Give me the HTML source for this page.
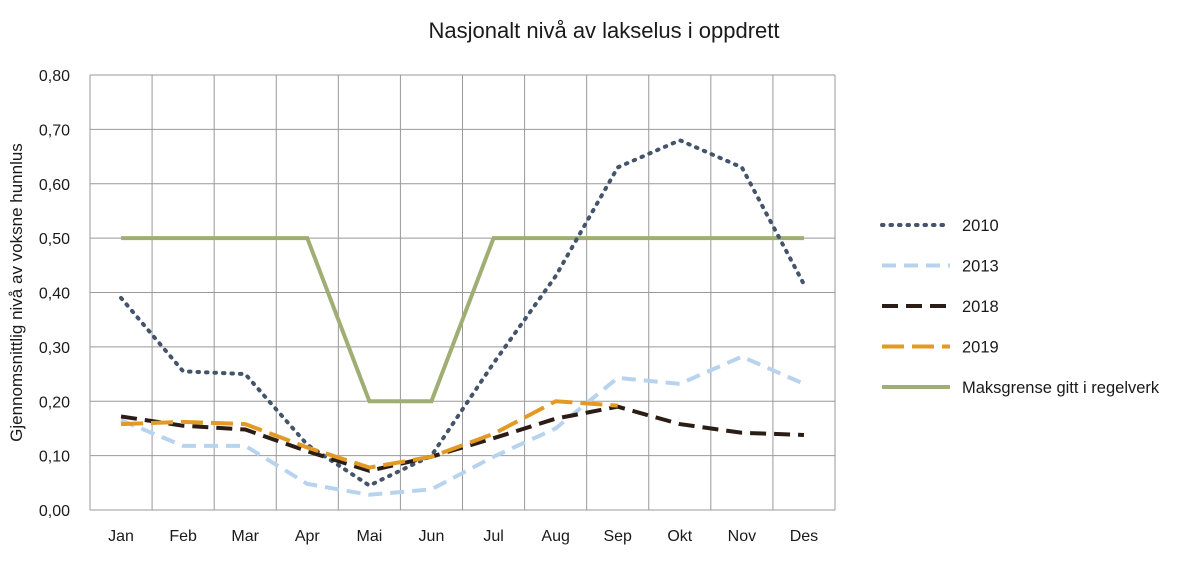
<!DOCTYPE html>
<html><head><meta charset="utf-8"><style>
body{margin:0;background:#fff;font-family:"Liberation Sans",sans-serif}
svg text{font-family:"Liberation Sans",sans-serif;fill:#1a1a1a}
</style></head><body>
<svg id="c" width="1200" height="562"></svg>
<script>
const months=["Jan","Feb","Mar","Apr","Mai","Jun","Jul","Aug","Sep","Okt","Nov","Des"];
const yTicks=[0,0.1,0.2,0.3,0.4,0.5,0.6,0.7,0.8];
const s2010=[0.39,0.255,0.25,0.12,0.045,0.10,0.27,0.43,0.63,0.68,0.63,0.415];
const s2013=[0.165,0.118,0.118,0.048,0.028,0.038,0.098,0.15,0.243,0.232,0.282,0.232];
const s2018=[0.172,0.155,0.148,0.108,0.072,0.098,0.132,0.168,0.19,0.158,0.142,0.138];
const s2019=[0.158,0.162,0.158,0.115,0.078,0.098,0.14,0.2,0.192];
const sMaks=[0.5,0.5,0.5,0.5,0.2,0.2,0.5,0.5,0.5,0.5,0.5,0.5,0.5];
const names=["2010","2013","2018","2019","Maksgrense gitt i regelverk"];
const NS="http://www.w3.org/2000/svg",svg=document.getElementById("c");
const L=90,R=835,T=75,B=510,bw=(R-L)/12;
const x=i=>L+bw*(i+0.5), y=v=>B-(B-T)*v/0.8;
function el(t,a,txt){const e=document.createElementNS(NS,t);for(const k in a)e.setAttribute(k,a[k]);if(txt!=null)e.textContent=txt;svg.appendChild(e);return e;}
let e=el("text",{x:604,y:38,"text-anchor":"middle","font-size":22},"Nasjonalt nivå av lakselus i oppdrett");


yTicks.forEach(v=>{let g=el("line",{x1:L,x2:R,y1:y(v),y2:y(v),stroke:"#999","stroke-width":1});


let t=el("text",{x:70,y:y(v)+6,"text-anchor":"end","font-size":16},v.toFixed(2).replace(".",","));

});
for(let i=0;i<=12;i++){let g=el("line",{x1:L+bw*i,x2:L+bw*i,y1:T,y2:B,stroke:"#999","stroke-width":1});

}
months.forEach((m,i)=>{let t=el("text",{x:x(i),y:541,"text-anchor":"middle","font-size":16},m);

});
e=el("text",{x:0,y:0,"text-anchor":"middle","font-size":17,transform:`translate(22,${(T+B)/2}) rotate(-90)`},"Gjennomsnittlig nivå av voksne hunnlus");


const maksX=[x(0),x(3),x(4),x(5),x(6),x(11)],maksV=[sMaks[0],sMaks[3],sMaks[4],sMaks[5],sMaks[6],sMaks[11]];
const styles=[
 {d:s2010,c:"#44546a",w:4,da:"1.5 7",cap:"round"},
 {d:s2013,c:"#b7d3ee",w:4,da:"14 8",cap:"butt"},
 {d:s2018,c:"#2b1d16",w:4,da:"16 8",cap:"butt"},
 {d:s2019,c:"#e39a25",w:4,da:"22 8",cap:"butt"}];
e=el("polyline",{points:maksX.map((px,i)=>px+","+y(maksV[i])).join(" "),fill:"none",stroke:"#9fae73","stroke-width":4});


styles.forEach((s,k)=>{let p=el("polyline",{points:s.d.map((v,i)=>x(i)+","+y(v)).join(" "),fill:"none",stroke:s.c,"stroke-width":s.w,"stroke-dasharray":s.da,"stroke-linecap":s.cap});

});
const leg=[...styles,{c:"#9fae73",w:4,da:"none",cap:"butt"}];
leg.forEach((s,k)=>{const yy=225+k*40.5;
let l=el("line",{x1:882,x2:950,y1:yy,y2:yy,stroke:s.c,"stroke-width":s.w,"stroke-dasharray":s.da,"stroke-linecap":s.cap});


let t=el("text",{x:962,y:yy+6,"font-size":16.5},names[k]);

});
</script></body></html>
